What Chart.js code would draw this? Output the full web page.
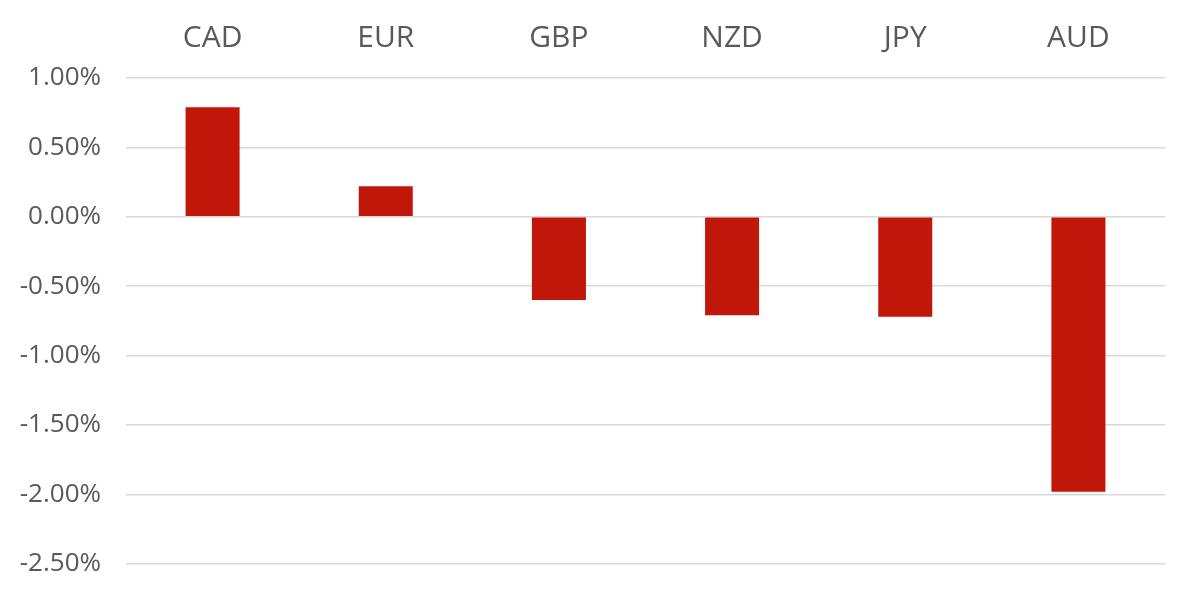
<!DOCTYPE html>
<html lang="en">
<head>
    <meta charset="UTF-8"/>
    <script src="https://cdn.jsdelivr.net/npm/chart.js@4.4.1/dist/chart.umd.min.js"></script>
    <title>currency change</title>
    <style>
        html, body { margin: 0; padding: 0; background: #fff; }
        #wrap { width: 1200px; height: 596px; }
    </style>
</head>
<body>
<div id="wrap">
    <canvas id="fxChart" width="1200" height="596"></canvas>
</div>
<script>
    // currencies and % change
    const currencies = ['CAD', 'EUR', 'GBP', 'NZD', 'JPY', 'AUD'];
    const changes = [0.79, 0.22, -0.60, -0.71, -0.72, -1.98];
    const yMin = -2.5, yMax = 1.0, yStep = 0.5;

    const ctx = document.getElementById('fxChart').getContext('2d');
    const fxChart = new Chart(ctx, {
        type: 'bar',
        data: {
            labels: currencies,
            datasets: [{
                data: changes,
                backgroundColor: '#c1170a',
                barPercentage: 0.312,
                categoryPercentage: 1.0
            }]
        },
        options: {
            responsive: false,
            animation: false,
            layout: {
                padding: {top: 0, right: 35, bottom: 0, left: 0}
            },
            plugins: {
                legend: {display: false},
                tooltip: {enabled: false}
            },
            scales: {
                x: {
                    position: 'top',
                    afterFit: (scale) => { scale.height = 78; },
                    grid: {display: false, drawTicks: false},
                    border: {display: false},
                    ticks: {
                        color: '#595959',
                        font: {family: 'Open Sans', size: 30},
                        padding: 22
                    }
                },
                y: {
                    min: yMin,
                    max: yMax,
                    afterFit: (scale) => { scale.width = 126; },
                    grid: {color: '#d9d9d9', lineWidth: 1.5, drawTicks: false},
                    border: {display: false},
                    ticks: {
                        stepSize: yStep,
                        color: '#595959',
                        font: {family: 'Open Sans', size: 26, lineHeight: 0.55},
                        padding: 25,
                        callback: (v) => v.toFixed(2) + '%'
                    }
                }
            }
        }
    });
</script>
</body>
</html>
